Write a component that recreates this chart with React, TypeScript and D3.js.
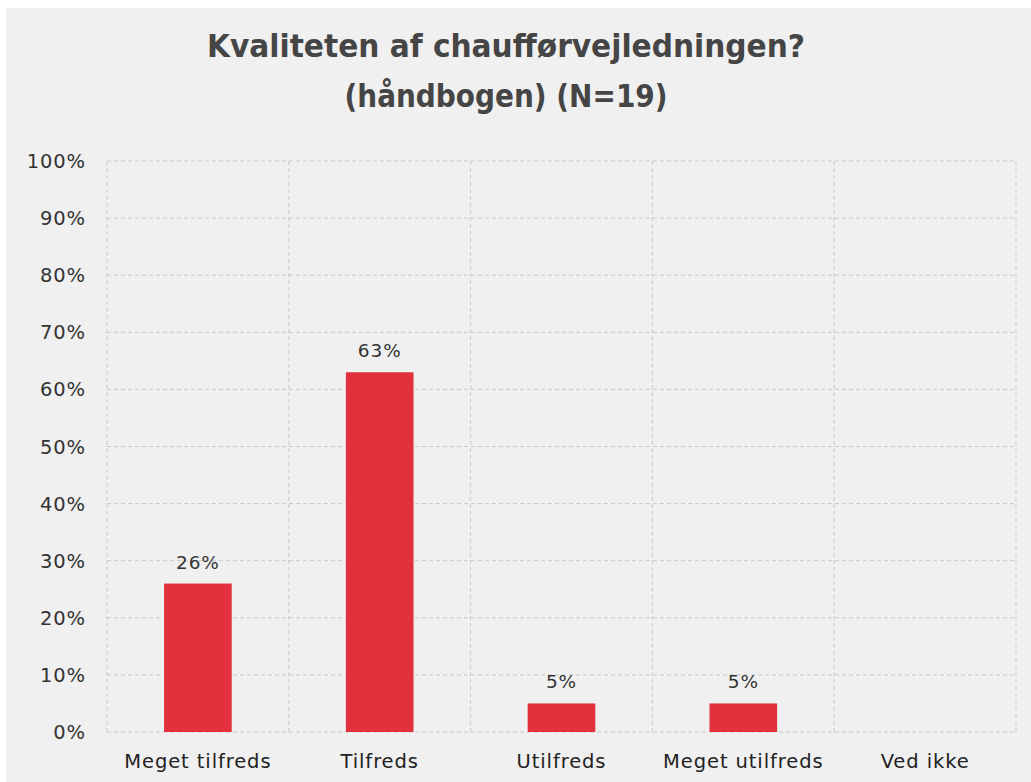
import React from "react";
import * as d3 from "d3";

const categories = ["Meget tilfreds", "Tilfreds", "Utilfreds", "Meget utilfreds", "Ved ikke"];
const values = [26, 63, 5, 5, 0];
const yTicks = [0, 10, 20, 30, 40, 50, 60, 70, 80, 90, 100];
const titleLines = ["Kvaliteten af chaufførvejledningen?", "(håndbogen) (N=19)"];

const W = 1031;
const H = 782;
const plot = { left: 107, right: 1016, top: 161, bottom: 732 };

export default function App() {
  const x = d3.scaleBand<string>().domain(categories).range([plot.left, plot.right]).paddingInner(0).paddingOuter(0);
  const y = d3.scaleLinear().domain([0, 100]).range([plot.bottom, plot.top]);
  const bw = x.bandwidth() * 0.372;
  const font = "Verdana, 'DejaVu Sans', sans-serif";
  const grid = "#c9c9c9";
  const fs = 19.5;
  const ls = 0.9;
  return (
    <svg width={W} height={H} style={{ position: "absolute", left: 0, top: 0 }}>
      <rect x={0} y={0} width={W} height={H} fill="#ffffff" />
      <rect x={6} y={8} width={W - 6} height={H - 8} fill="#f0f0f0" />
      {titleLines.map((t, i) => (
        <text
          key={i}
          x={506}
          y={57 + i * 50}
          textAnchor="middle"
          fontFamily="'DejaVu Sans Condensed', 'DejaVu Sans', sans-serif"
          fontWeight="bold"
          fontSize={32}
          fill="#454545"
          textLength={i === 0 ? 598 : 323}
          lengthAdjust="spacingAndGlyphs"
        >
          {t}
        </text>
      ))}
      {yTicks.map((t) => (
        <g key={t}>
          <line x1={plot.left} x2={plot.right} y1={y(t)} y2={y(t)} stroke={grid} strokeWidth={1} strokeDasharray="4,3" />
          <text x={86} y={y(t) + 7} textAnchor="end" fontFamily={font} fontSize={fs} letterSpacing={ls} fill="#333">
            {t}%
          </text>
        </g>
      ))}
      {categories.map((c) => (
        <line key={c} x1={x(c)!} x2={x(c)!} y1={plot.top} y2={plot.bottom} stroke={grid} strokeWidth={1} strokeDasharray="4,3" />
      ))}
      <line x1={plot.right} x2={plot.right} y1={plot.top} y2={plot.bottom} stroke={grid} strokeWidth={1} strokeDasharray="4,3" />
      {categories.map((c, i) => {
        const cx = x(c)! + x.bandwidth() / 2;
        const v = values[i];
        return (
          <g key={c}>
            {v > 0 && (
              <>
                <rect x={cx - bw / 2} y={y(v)} width={bw} height={plot.bottom - y(v)} fill="#e3303d" />
                <text x={cx} y={y(v) - 15} textAnchor="middle" fontFamily={font} fontSize={fs - 1} letterSpacing={ls} fill="#333">
                  {v}%
                </text>
              </>
            )}
            <text x={cx} y={768} textAnchor="middle" fontFamily={font} fontSize={fs} letterSpacing={ls} fill="#222">
              {c}
            </text>
          </g>
        );
      })}
    </svg>
  );
}
